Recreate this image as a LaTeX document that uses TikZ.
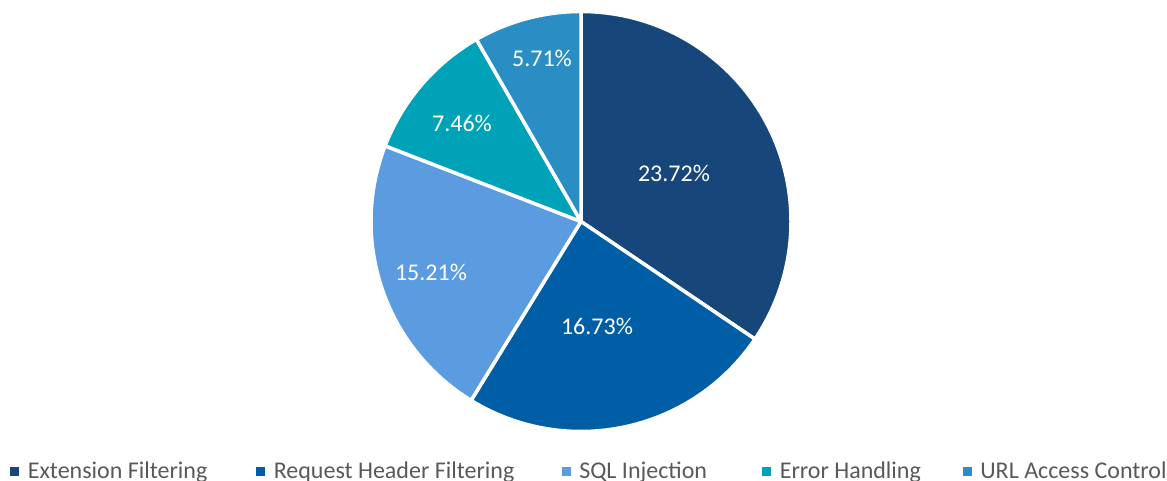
\documentclass[tikz,border=0pt]{standalone}
\usepackage{fontspec}
\setmainfont{Carlito}
\usetikzlibrary{positioning}
\definecolor{extfilt}{RGB}{23,70,122}
\definecolor{reqhead}{RGB}{0,94,166}
\definecolor{sqlinj}{RGB}{91,155,224}
\definecolor{errhand}{RGB}{0,162,184}
\definecolor{urlacc}{RGB}{42,142,197}
\definecolor{legendgray}{RGB}{89,89,89}

\begin{document}
\begin{tikzpicture}[x=0.5pt,y=0.5pt,every node/.style={font=\fontsize{12}{14}\selectfont},
  slice/.style={draw=white,line width=1.75pt,line join=round},
  pct/.style={text=white,inner sep=1pt},
  legkey/.style={minimum size=4.5pt,inner sep=0pt},
  legtext/.style={text=legendgray,anchor=base west,inner sep=0pt}]
  \useasboundingbox (0,0) rectangle (1167,481);
  \coordinate (O) at (581,259.5);
  \def\R{210}
  % slices, clockwise from the top
  \foreach \a/\b/\c in {90/-34.06/extfilt,-34.06/-121.56/reqhead,-121.56/-201.11/sqlinj,
                        -201.11/-240.13/errhand,-240.13/-270/urlacc}
    \draw[slice,fill=\c] (O) -- ++(\a:\R) arc (\a:\b:\R) -- cycle;
  \node[pct] (p1) at (674,308) {23.72\%};
  \node[pct] (p2) at (597,155) {16.73\%};
  \node[pct] (p3) at (431,209) {15.21\%};
  \node[pct] (p4) at (462,358) {7.46\%};
  \node[pct] (p5) at (542,423) {5.71\%};
  % legend
  \foreach \i/\x/\c/\t in {1/14.5/extfilt/Extension Filtering,2/260.5/reqhead/Request Header Filtering,
                           3/566/sqlinj/SQL Injection,4/766.5/errhand/Error Handling,5/967/urlacc/URL Access Control}{
    \node[legkey,fill=\c] (key\i) at (\x,9.2) {};
    \node[legtext] (lab\i) at ([xshift=4pt]key\i.east |- 0,2) {\t};
  }
\end{tikzpicture}
\end{document}
